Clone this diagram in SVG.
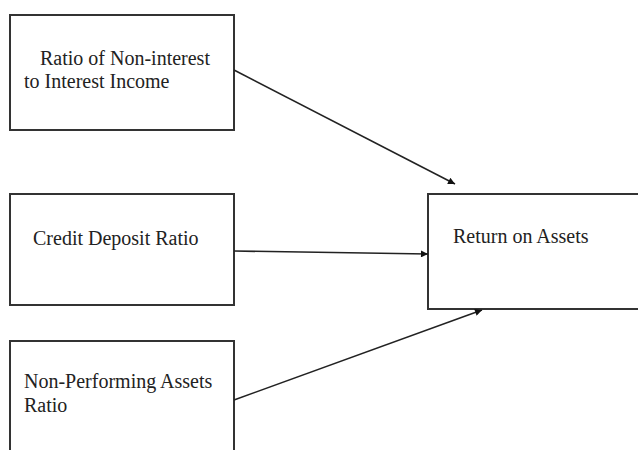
<svg xmlns="http://www.w3.org/2000/svg" width="638" height="450" viewBox="0 0 638 450">
<style>
.box{fill:#fff;stroke:#333;stroke-width:2}
.t{font-family:"Liberation Serif","Times New Roman",serif;font-size:20px;fill:#222}
.c{stroke:#222;stroke-width:1.6;fill:none;marker-end:url(#ah)}
</style>
<defs>
<marker id="ah" viewBox="0 0 10 10" refX="10" refY="5" markerWidth="9" markerHeight="7" orient="auto" markerUnits="userSpaceOnUse">
<path d="M0,0 L10,5 L0,10 z" fill="#111"/>
</marker>
</defs>
<rect width="638" height="450" fill="#fff"/>
<g id="n1"><rect class="box" x="10" y="15" width="224" height="115"/>
<text class="t" x="40" y="65">Ratio of Non-interest</text>
<text class="t" x="24" y="88">to Interest Income</text></g>
<g id="n2"><rect class="box" x="10" y="194" width="224" height="111"/>
<text class="t" x="33" y="245">Credit Deposit Ratio</text></g>
<g id="n3"><rect class="box" x="10" y="341" width="224" height="115"/>
<text class="t" x="24" y="388">Non-Performing Assets</text>
<text class="t" x="24" y="412">Ratio</text></g>
<g id="n4"><rect class="box" x="428" y="194" width="214" height="115"/>
<text class="t" x="453" y="243">Return on Assets</text></g>
<g id="connectors">
<line class="c" x1="234" y1="70" x2="455" y2="184"/>
<line class="c" x1="234" y1="251" x2="428" y2="254"/>
<line class="c" x1="234" y1="400" x2="482" y2="310"/>
</g>
</svg>
